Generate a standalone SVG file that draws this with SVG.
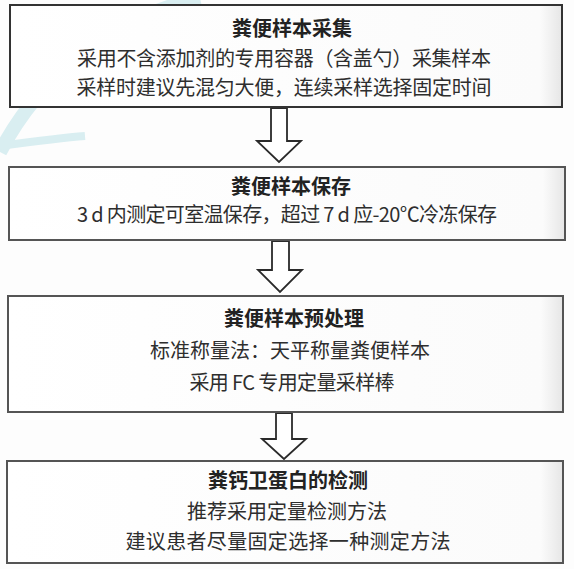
<svg xmlns="http://www.w3.org/2000/svg" width="574" height="569" viewBox="0 0 574 569">
  <defs>
    <linearGradient id="boxfill" x1="0" y1="0" x2="1" y2="0">
      <stop offset="0" stop-color="#ffffff"/>
      <stop offset="0.96" stop-color="#fbfbfb"/>
      <stop offset="1" stop-color="#e6e6e6"/>
    </linearGradient>
  </defs>
  <style>
    .box { fill: url(#boxfill); stroke: #555; stroke-width: 2; }
    .arrow { fill: #ffffff; stroke: #2a2a2a; stroke-width: 1.8; stroke-linejoin: miter; }
    .title { font-family: "Noto Sans CJK SC", "Noto Sans", sans-serif; font-size: 20px; font-weight: bold; fill: #222; text-anchor: middle; }
    .body { font-family: "Noto Sans CJK SC", "Noto Sans", sans-serif; font-size: 20px; fill: #2e2e2e; text-anchor: middle; }
    .wm { fill: none; stroke: #d9eef1; }
  </style>
  <rect x="0" y="0" width="574" height="569" fill="#fdfdfd"/>

  <g id="watermark">
    <path class="wm" d="M 0 152 A 300 300 0 0 1 200 -2" stroke-width="14"/>
    <path class="wm" d="M 0 146 Q 60 138 85 136" stroke-width="8"/>
  </g>

  <g id="connectors">
    <path class="arrow" d="M 271 108 L 287 108 L 287 141 L 301 141 L 279 162 L 257 141 L 271 141 Z"/>
    <path class="arrow" d="M 272 241 L 289 241 L 289 270 L 302 270 L 280 292 L 258 270 L 272 270 Z"/>
    <path class="arrow" d="M 276 413 L 292 413 L 292 439 L 306 439 L 284 459 L 262 439 L 276 439 Z"/>
  </g>

  <g id="node1">
    <rect class="box" x="10" y="5" width="552" height="102" style="stroke:#333"/>
    <text class="title" x="292" y="36">粪便样本采集</text>
    <text class="body" x="284" y="66" textLength="414">采用不含添加剂的专用容器（含盖勺）采集样本</text>
    <text class="body" x="284" y="95" textLength="415">采样时建议先混匀大便，连续采样选择固定时间</text>
  </g>

  <g id="node2">
    <rect class="box" x="9" y="167" width="556" height="73"/>
    <text class="title" x="291" y="194">粪便样本保存</text>
    <text class="body" x="287" y="222" textLength="420">3 d 内测定可室温保存，超过 7 d 应-20℃冷冻保存</text>
  </g>

  <g id="node3">
    <rect class="box" x="8" y="296" width="555" height="116"/>
    <text class="title" x="294" y="326">粪便样本预处理</text>
    <text class="body" x="290" y="358" textLength="280">标准称量法：天平称量粪便样本</text>
    <text class="body" x="292" y="390" textLength="205">采用 FC 专用定量采样棒</text>
  </g>

  <g id="node4">
    <rect class="box" x="7" y="461" width="556" height="102"/>
    <text class="title" x="288" y="488">粪钙卫蛋白的检测</text>
    <text class="body" x="287" y="519">推荐采用定量检测方法</text>
    <text class="body" x="288" y="549" textLength="325">建议患者尽量固定选择一种测定方法</text>
  </g>
</svg>
